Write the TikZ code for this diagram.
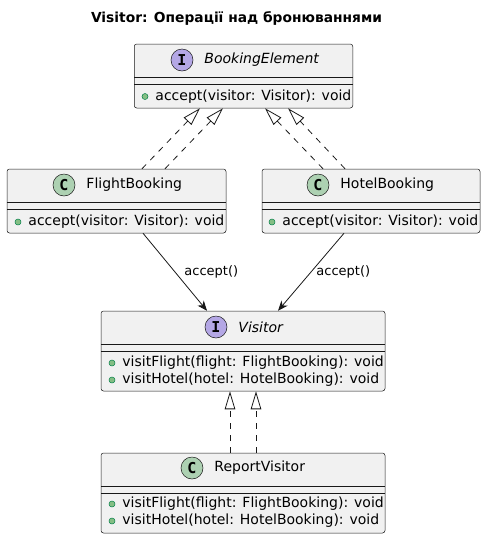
\documentclass[tikz,border=0pt]{standalone}
\usepackage{fontspec}
\setmainfont{DejaVu Sans}
\newfontfamily\iconfont{DejaVu Sans Mono}
\usetikzlibrary{positioning, arrows.meta}

\definecolor{boxfill}{HTML}{F1F1F1}
\definecolor{boxline}{HTML}{181818}
\definecolor{ifacefill}{HTML}{B4A7E5}
\definecolor{classfill}{HTML}{ADD1B2}
\definecolor{dotfill}{HTML}{84BE84}
\definecolor{dotline}{HTML}{038048}

\begin{document}
\begin{tikzpicture}[x=1pt, y=-1pt, >=Stealth,
	classbox/.style={draw=boxline, fill=boxfill, line width=0.5pt, rounded corners=2.5pt, inner sep=0pt},
	classicon/.style={circle, draw=boxline, line width=0.5pt, minimum size=22pt, inner sep=0pt, font=\fontsize{15pt}{15pt}\iconfont\bfseries},
	ifaceicon/.style={classicon, fill=ifacefill},
	plainicon/.style={classicon, fill=classfill},
	classname/.style={inner sep=0pt, font=\fontsize{14pt}{16pt}\selectfont},
	member/.style={inner sep=0pt, font=\fontsize{14pt}{16pt}\selectfont},
	pubdot/.style={circle, draw=dotline, fill=dotfill, line width=0.5pt, minimum size=6pt, inner sep=0pt},
	realize/.style={draw=boxline, line width=0.8pt, dash pattern=on 6pt off 6pt, -{Triangle[open, length=18pt, width=10.5pt]}},
	depend/.style={draw=boxline, line width=0.8pt, -{Stealth[length=10pt, width=8pt, inset=3pt]}},
	calllabel/.style={font=\fontsize{13pt}{15pt}\selectfont, inner sep=0pt}]

	\useasboundingbox (0,0) rectangle (486,539);

	% Title
	\node[font=\bfseries\fontsize{13.8pt}{16pt}\selectfont] (title) at (236.5,18) {Visitor: Операції над бронюваннями};

	% Class boxes
	\node[classbox, minimum width=218.5pt, minimum height=64pt] (elem) at (243.5,76) {};
	\node[classbox, minimum width=219pt, minimum height=64pt] (flight) at (116.5,201) {};
	\node[classbox, minimum width=218pt, minimum height=64pt] (hotel) at (371,201) {};
	\node[classbox, minimum width=284pt, minimum height=80pt] (visitor) at (243,351) {};
	\node[classbox, minimum width=284pt, minimum height=80pt] (report) at (243,493) {};

	% Section lines
	\foreach \cls in {elem, flight, hotel, visitor, report} {
		\draw[boxline, line width=0.5pt] ([yshift=-33pt]\cls.north west) -- ([yshift=-33pt]\cls.north east);
		\draw[boxline, line width=0.5pt] ([yshift=-40pt]\cls.north west) -- ([yshift=-40pt]\cls.north east);
	}

	% Headers
	\node[ifaceicon] (elemicon) at (182,60) {I};
	\node[classname, right=11pt of elemicon, font=\fontsize{14pt}{16pt}\itshape] (elemname) {BookingElement};
	\node[plainicon] (flighticon) at (64,185) {C};
	\node[classname, right=11pt of flighticon] (flightname) {FlightBooking};
	\node[plainicon] (hotelicon) at (318,185) {C};
	\node[classname, right=11pt of hotelicon] (hotelname) {HotelBooking};
	\node[ifaceicon] (visitoricon) at (216,327) {I};
	\node[classname, right=11pt of visitoricon, font=\fontsize{14pt}{16pt}\itshape] (visitorname) {Visitor};
	\node[plainicon] (reporticon) at (192,468) {C};
	\node[classname, right=11pt of reporticon] (reportname) {ReportVisitor};

	% Methods
	\node[pubdot] (elemdot) at (145,96.5) {};
	\node[member, right=7pt of elemdot] (elemm) {accept(visitor: Visitor): void};
	\node[pubdot] (flightdot) at (18,222) {};
	\node[member, right=7pt of flightdot] (flightm) {accept(visitor: Visitor): void};
	\node[pubdot] (hoteldot) at (272,222) {};
	\node[member, right=7pt of hoteldot] (hotelm) {accept(visitor: Visitor): void};
	\node[pubdot] (visitordota) at (112,363) {};
	\node[member, right=7pt of visitordota] (visitorma) {visitFlight(flight: FlightBooking): void};
	\node[pubdot] (visitordotb) at (112,380) {};
	\node[member, right=7pt of visitordotb] (visitormb) {visitHotel(hotel: HotelBooking): void};
	\node[pubdot] (reportdota) at (112,504) {};
	\node[member, right=7pt of reportdota] (reportma) {visitFlight(flight: FlightBooking): void};
	\node[pubdot] (reportdotb) at (112,521) {};
	\node[member, right=7pt of reportdotb] (reportmb) {visitHotel(hotel: HotelBooking): void};

	% Realizations
	\draw[realize] ([xshift=25.5pt]flight.north) -- ([xshift=-43.5pt]elem.south);
	\draw[realize] ([xshift=48.5pt]flight.north) -- ([xshift=-20.5pt]elem.south);
	\draw[realize] ([xshift=-48pt]hotel.north) -- ([xshift=21.5pt]elem.south);
	\draw[realize] ([xshift=-26pt]hotel.north) -- ([xshift=44.5pt]elem.south);
	\draw[realize] ([xshift=-13pt]report.north) -- ([xshift=-13pt]visitor.south);
	\draw[realize] ([xshift=13pt]report.north) -- ([xshift=13pt]visitor.south);

	% Calls
	\draw[depend] ([xshift=26.5pt]flight.south) -- ([xshift=-36pt]visitor.north) node[calllabel, pos=0.5, right=9pt] (flightcall) {accept()};
	\draw[depend] ([xshift=-27pt]hotel.south) -- ([xshift=35pt]visitor.north) node[calllabel, pos=0.5, right=5pt] (hotelcall) {accept()};
\end{tikzpicture}
\end{document}
